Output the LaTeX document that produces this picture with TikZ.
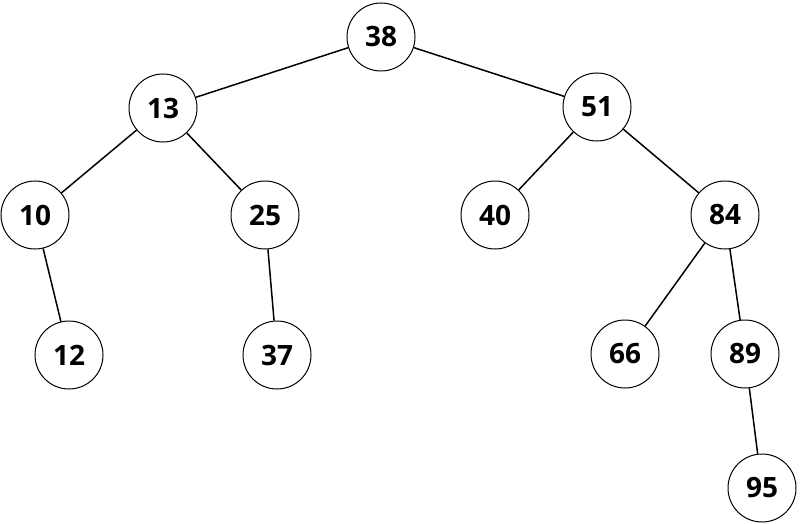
\documentclass[tikz,border=0pt]{standalone}
\usepackage{fontspec}
\setmainfont{Open Sans}
\begin{document}
\begin{tikzpicture}[x=1pt,y=-1pt,
  nd/.style={circle,draw,line width=1pt,minimum size=68pt,inner sep=0pt,font=\fontsize{28}{30}\selectfont\bfseries},
  ed/.style={line width=1.5pt}]
\useasboundingbox (0,0) rectangle (800,524);
\node[nd] (n38) at (381,37) {38};
\node[nd] (n13) at (163,108) {13};
\node[nd] (n51) at (597,107) {51};
\node[nd] (n10) at (35,215) {10};
\node[nd] (n25) at (265,215) {25};
\node[nd] (n40) at (495,215) {40};
\node[nd] (n84) at (725,215) {84};
\node[nd] (n12) at (69,355) {12};
\node[nd] (n37) at (277,355) {37};
\node[nd] (n66) at (625,354) {66};
\node[nd] (n89) at (745,354) {89};
\node[nd] (n95) at (762,488) {95};
\draw[ed] (n38)--(n13); \draw[ed] (n38)--(n51);
\draw[ed] (n13)--(n10); \draw[ed] (n13)--(n25);
\draw[ed] (n51)--(n40); \draw[ed] (n51)--(n84);
\draw[ed] (n10)--(n12); \draw[ed] (n25)--(n37);
\draw[ed] (n84)--(n66); \draw[ed] (n84)--(n89);
\draw[ed] (n89)--(n95);
\end{tikzpicture}
\end{document}
